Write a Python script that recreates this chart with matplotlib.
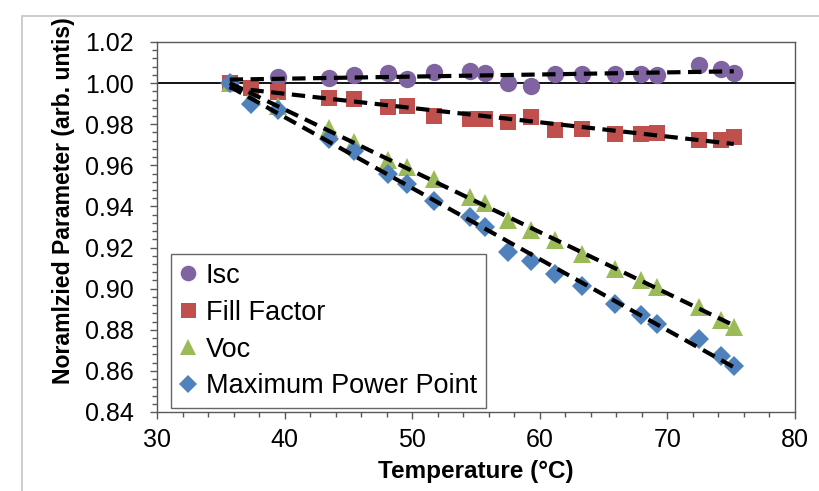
import numpy as np
import matplotlib
matplotlib.use("Agg")
import matplotlib.pyplot as plt
from matplotlib.ticker import MultipleLocator, FormatStrFormatter
from matplotlib.patches import Rectangle

plt.rcParams['font.family'] = ['Liberation Sans', 'DejaVu Sans']

# ---- data ----
temp_isc = [35.7, 39.5, 43.5, 45.4, 48.1, 49.6, 51.7, 54.5, 55.7, 57.5,
            59.3, 61.2, 63.3, 65.9, 67.9, 69.2, 72.5, 74.2, 75.2]
isc = [1.000, 1.003, 1.0027, 1.0038, 1.0051, 1.0022, 1.0054, 1.0057, 1.0051, 1.0000,
       0.9986, 1.0046, 1.0046, 1.0046, 1.0046, 1.0041, 1.0087, 1.0067, 1.0051]

temp = [35.7, 37.4, 39.5, 43.5, 45.4, 48.1, 49.6, 51.7, 54.5, 55.7,
        57.5, 59.3, 61.2, 63.3, 65.9, 67.9, 69.2, 72.5, 74.2, 75.2]
fill_factor = [1.000, 0.9975, 0.9958, 0.9927, 0.9925, 0.9884, 0.9887, 0.9838, 0.9827, 0.9827,
               0.9811, 0.9835, 0.9774, 0.9779, 0.9754, 0.9754, 0.9757, 0.9722, 0.9722, 0.9738]
voc = [1.000, 0.9930, 0.9887, 0.9783, 0.9713, 0.9624, 0.9592, 0.9535, 0.9446, 0.9415,
       0.9336, 0.9284, 0.9235, 0.9170, 0.9097, 0.9044, 0.9008, 0.8913, 0.8846, 0.8813]
mpp = [1.000, 0.9900, 0.9868, 0.9730, 0.9668, 0.9556, 0.9511, 0.9426, 0.9348, 0.9300,
       0.9178, 0.9134, 0.9073, 0.9013, 0.8927, 0.8870, 0.8830, 0.8753, 0.8671, 0.8626]

labels = ["Isc", "Fill Factor", "Voc", "Maximum Power Point"]
colors = ["#8064A2", "#C0504D", "#9BBB59", "#4F81BD"]
markers = ["o", "s", "^", "D"]
msizes = [12.5, 12, 13, 10]

xticks = [30, 40, 50, 60, 70, 80]
yticks = [0.84, 0.86, 0.88, 0.90, 0.92, 0.94, 0.96, 0.98, 1.00, 1.02]

fig = plt.figure(figsize=(8.2, 4.91), dpi=100)
ax = fig.add_axes([157/820, 1 - 412/491, (795-157)/820, (412-42)/491])

# outer chart border
fig.patches.append(Rectangle((22/820, -0.1), 1.2, 1 - 16/491 + 0.1,
                             transform=fig.transFigure, fill=False,
                             edgecolor="#c8c8c8", linewidth=1.3, zorder=0))

ax.axhline(1.0, color="black", linewidth=1.3, zorder=1)

series = [(temp_isc, isc), (temp, fill_factor), (temp, voc), (temp, mpp)]
handles = []
for (tx, ty), lab, c, m, ms in zip(series, labels, colors, markers, msizes):
    h, = ax.plot(tx, ty, linestyle="none", marker=m, markersize=ms,
                 color=c, markeredgewidth=0, label=lab, zorder=2)
    handles.append(h)

for tx, ty in series:
    tx = np.asarray(tx); ty = np.asarray(ty)
    p = np.polyfit(tx, ty, 1)
    xs = np.array([tx.min(), tx.max()])
    ax.plot(xs, np.polyval(p, xs), color="black", linewidth=3.0,
            linestyle=(0, (3.2, 1.8)), zorder=3)

ax.set_xlim(30, 80)
ax.set_ylim(0.84, 1.02)
ax.set_xticks(xticks)
ax.set_yticks(yticks)
ax.xaxis.set_minor_locator(MultipleLocator(2))
ax.yaxis.set_minor_locator(MultipleLocator(0.004))
ax.yaxis.set_major_formatter(FormatStrFormatter("%.2f"))

for s in ax.spines.values():
    s.set_color("#595959")
    s.set_linewidth(1.0)

ax.tick_params(axis="both", which="major", direction="out", length=5,
               width=1.0, color="#595959", labelsize=18)
ax.tick_params(axis="x", which="major", pad=6.5)
ax.tick_params(axis="y", which="major", pad=12)
ax.tick_params(axis="both", which="minor", direction="out", length=3.6,
               width=1.0, color="#595959")

ax.set_xlabel("Temperature (°C)", fontsize=17.5, fontweight="bold", labelpad=6)
ax.set_ylabel("Noramlzied Parameter (arb. untis)", fontsize=16.6,
              fontweight="bold")
ax.yaxis.set_label_coords(-0.128, 0.570)

leg = ax.legend(handles=handles, loc="upper left",
                bbox_to_anchor=((171-157)/638, (412-254)/370),
                fontsize=19.5, frameon=True, fancybox=False,
                edgecolor="#404040", handlelength=0.6, handletextpad=0.35,
                labelspacing=0.4, borderpad=0.33, borderaxespad=0,
                markerscale=0.9)
leg.get_frame().set_linewidth(1.0)

fig.savefig("out.png", dpi=100)
